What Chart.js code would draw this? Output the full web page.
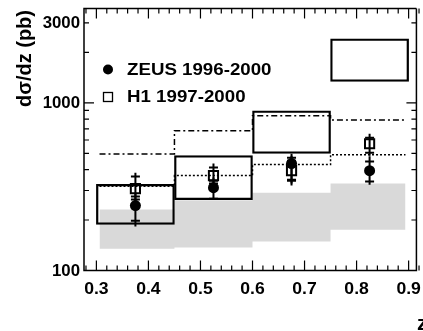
<!DOCTYPE html>
<html>
<head>
<meta charset="utf-8">
<script src="https://cdn.jsdelivr.net/npm/chart.js@4.4.0/dist/chart.umd.min.js"></script>
<style>
  html, body { margin: 0; padding: 0; background: #fff; }
  #wrap { width: 423px; height: 331px; }
</style>
</head>
<body>
<div id="wrap"><canvas id="zChart" width="423" height="331"></canvas></div>
<script>
// bins in z
const binEdges = [0.3, 0.45, 0.6, 0.75, 0.9];
const bandEdges = [0.306, 0.45, 0.6, 0.75, 0.894];
const binCenters = [0.375, 0.525, 0.675, 0.825];

// theory: grey band, open boxes, dash-dotted and dotted histograms (pb)
const bandLow = [135, 137, 149, 175];
const bandHigh = [231, 261, 291, 330];
const boxLow = [188, 264, 499, 1340];
const boxHigh = [327, 484, 896, 2410];
const dashDotCurve = [495, 681, 837, 789];
const dottedCurve = [318, 368, 428, 490];

// ZEUS 1996-2000
const zeusVal = [244, 312, 434, 394];
const zeusStatUp = [276, 343, 471, 446];
const zeusStatDn = [198, 268, 343, 339];
const zeusTotUp = [291, 358, 497, 480];
const zeusTotDn = [183, 266, 321, 325];

// H1 1997-2000
const h1Val = [308, 368, 394, 570];
const h1StatUp = [363, 411, 452, 619];
const h1StatDn = [265, 330, 348, 504];
const h1TotUp = [383, 435, 484, 654];
const h1TotDn = [250, 316, 330, 484];

// axes
const xTickValues = [0.3, 0.4, 0.5, 0.6, 0.7, 0.8, 0.9];
const xTickLabels = ['0.3', '0.4', '0.5', '0.6', '0.7', '0.8', '0.9'];
const yTickValues = [100, 1000, 3000];
const yTickLabels = ['100', '1000', '3000'];
const yMinorValues = [200, 300, 400, 500, 600, 700, 800, 900, 2000, 3000];

const xMin = 0.2762, xMax = 0.9113, xFrameMax = 0.915;
const yMin = 100, yMax = 3650;

const boldFont = size => 'bold ' + size + 'px "Liberation Sans", Arial, sans-serif';

// text a bit wider than the font, like the original plot
function wideText(ctx, str, x, y, stretch) {
  ctx.save();
  ctx.translate(x, y);
  ctx.scale(stretch, 1);
  ctx.fillText(str, 0, 0);
  ctx.restore();
}

const stepPoints = (edges, vals) => edges.map((x, i) => ({ x, y: vals[Math.min(i, vals.length - 1)] }));

const errorBars = {
  id: 'errorBars',
  afterDatasetsDraw(chart) {
    const { ctx, scales: { x, y } } = chart;
    const sets = [
      [zeusVal, zeusStatUp, zeusStatDn, zeusTotUp, zeusTotDn],
      [h1Val, h1StatUp, h1StatDn, h1TotUp, h1TotDn],
    ];
    ctx.save();
    ctx.strokeStyle = '#000';
    ctx.lineWidth = 2;
    sets.forEach(([val, su, sd, tu, td]) => {
      val.forEach((v, i) => {
        const px = x.getPixelForValue(binCenters[i]);
        ctx.beginPath();
        ctx.moveTo(px, y.getPixelForValue(td[i]));
        ctx.lineTo(px, y.getPixelForValue(tu[i]));
        [su[i], sd[i]].forEach(s => {
          const py = y.getPixelForValue(s);
          ctx.moveTo(px - 4.5, py);
          ctx.lineTo(px + 4.5, py);
        });
        ctx.stroke();
      });
    });
    ctx.restore();
  }
};

const frameAndText = {
  id: 'frameAndText',
  afterDraw(chart) {
    const { ctx, chartArea: a, scales: { x, y } } = chart;
    const left = a.left, top = a.top, bottom = a.bottom;
    const right = x.getPixelForValue(xFrameMax);
    ctx.save();
    ctx.strokeStyle = '#000';
    ctx.fillStyle = '#000';
    ctx.lineWidth = 1.5;
    ctx.beginPath();
    ctx.moveTo(right, top);
    ctx.lineTo(left, top);
    ctx.lineTo(left, bottom);
    ctx.lineTo(right, bottom);
    ctx.lineTo(right, top);
    ctx.stroke();

    // x ticks, every 0.02, major every 0.1
    ctx.lineWidth = 1.2;
    ctx.beginPath();
    for (let k = 14; k <= 46; k++) {
      const px = x.getPixelForValue(k / 50);
      if (px <= left) continue;
      const len = k % 5 === 0 ? 10 : 5;
      ctx.moveTo(px, bottom);
      ctx.lineTo(px, bottom - len);
      ctx.moveTo(px, top);
      ctx.lineTo(px, top + len);
    }
    // y ticks, both sides
    [100, 1000].concat(yMinorValues).forEach(v => {
      const py = y.getPixelForValue(v);
      const len = (v === 100 || v === 1000) ? 10 : 5;
      ctx.moveTo(left, py);
      ctx.lineTo(left + len, py);
      ctx.moveTo(right, py);
      ctx.lineTo(right - len, py);
    });
    ctx.stroke();

    // tick labels
    ctx.font = boldFont(16);
    ctx.textBaseline = 'middle';
    ctx.textAlign = 'center';
    xTickValues.forEach((v, i) => {
      wideText(ctx, xTickLabels[i], x.getPixelForValue(v), bottom + 19, 1.1);
    });
    ctx.textAlign = 'right';
    yTickValues.forEach((v, i) => {
      wideText(ctx, yTickLabels[i], left - 4, y.getPixelForValue(v) + 1, 1.05);
    });

    // axis titles
    ctx.font = boldFont(21);
    ctx.textAlign = 'left';
    ctx.textBaseline = 'alphabetic';
    ctx.fillText('z', 417, 330);
    ctx.save();
    ctx.translate(31, 107);
    ctx.rotate(-Math.PI / 2);
    ctx.font = boldFont(20);
    ctx.fillText('dσ/dz (pb)', 0, 0);
    ctx.restore();

    // legend
    ctx.beginPath();
    ctx.arc(108, 69.5, 5, 0, Math.PI * 2);
    ctx.fill();
    ctx.lineWidth = 1.3;
    ctx.strokeRect(103.5, 92.5, 9, 9);
    ctx.font = boldFont(17);
    ctx.textBaseline = 'middle';
    wideText(ctx, 'ZEUS 1996-2000', 127, 70, 1.1);
    wideText(ctx, 'H1 1997-2000', 127, 97, 1.1);
    ctx.restore();
  }
};

new Chart(document.getElementById('zChart'), {
  type: 'scatter',
  data: {
    datasets: [
      {
        type: 'line',
        data: stepPoints(bandEdges, bandLow),
        stepped: 'before',
        borderWidth: 0,
        borderColor: 'rgba(0,0,0,0)',
        pointRadius: 0,
        fill: false,
        order: 10,
      },
      {
        type: 'line',
        data: stepPoints(bandEdges, bandHigh),
        stepped: 'before',
        borderWidth: 0,
        borderColor: 'rgba(0,0,0,0)',
        backgroundColor: '#d9d9d9',
        pointRadius: 0,
        fill: '-1',
        order: 9,
      },
      {
        type: 'bar',
        data: binCenters.map((c, i) => ({ x: c, y: [boxLow[i], boxHigh[i]] })),
        barPercentage: 1,
        categoryPercentage: 1,
        borderWidth: 1.6,
        borderColor: '#000',
        backgroundColor: 'rgba(0,0,0,0)',
        borderSkipped: false,
        order: 8,
      },
      {
        type: 'line',
        data: stepPoints(bandEdges, dashDotCurve),
        stepped: 'before',
        borderColor: '#000',
        borderWidth: 1.5,
        borderDash: [6, 3, 2, 3],
        pointRadius: 0,
        fill: false,
        order: 7,
      },
      {
        type: 'line',
        data: stepPoints(bandEdges, dottedCurve),
        stepped: 'before',
        borderColor: '#000',
        borderWidth: 1.5,
        borderDash: [2, 2],
        pointRadius: 0,
        fill: false,
        order: 6,
      },
      {
        label: 'ZEUS 1996-2000',
        data: binCenters.map((c, i) => ({ x: c, y: zeusVal[i] })),
        pointStyle: 'circle',
        pointRadius: 5.5,
        backgroundColor: '#000',
        borderColor: '#000',
        borderWidth: 0,
        order: 2,
      },
      {
        label: 'H1 1997-2000',
        data: binCenters.map((c, i) => ({ x: c, y: h1Val[i] })),
        pointStyle: 'rect',
        pointRadius: 6.5,
        backgroundColor: 'rgba(0,0,0,0)',
        borderColor: '#000',
        borderWidth: 2,
        order: 1,
      },
    ]
  },
  options: {
    responsive: false,
    animation: false,
    layout: { padding: { left: 84, right: 0, top: 8, bottom: 60.5 } },
    plugins: { legend: { display: false }, tooltip: { enabled: false } },
    scales: {
      // ticks every bin width so the boxes span whole bins
      x: { type: 'linear', min: xMin, max: xMax, offset: false, display: false,
           ticks: { stepSize: 0.15, includeBounds: false } },
      y: { type: 'logarithmic', min: yMin, max: yMax, display: false },
    },
  },
  plugins: [errorBars, frameAndText],
});
</script>
</body>
</html>
